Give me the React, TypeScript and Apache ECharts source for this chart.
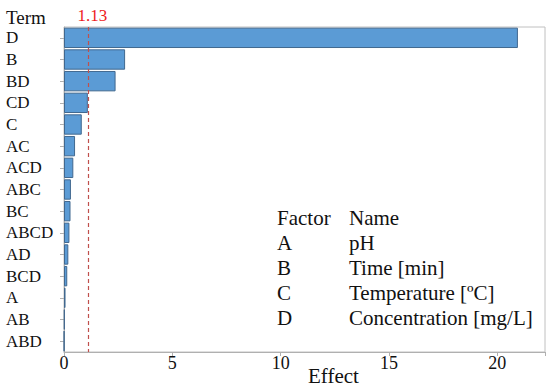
import React, { useEffect, useRef } from "react";
import * as echarts from "echarts";

const terms = ["D", "B", "BD", "CD", "C", "AC", "ACD", "ABC", "BC", "ABCD", "AD", "BCD", "A", "AB", "ABD"];
const effects = [20.95, 2.82, 2.38, 1.1, 0.82, 0.51, 0.43, 0.32, 0.3, 0.25, 0.2, 0.15, 0.07, 0.03, 0.01];
const threshold = 1.13;
const xTicks = [0, 5, 10, 15, 20];
const factorCodes = ["A", "B", "C", "D"];
const factorNames = ["pH", "Time [min]", "Temperature [ºC]", "Concentration [mg/L]"];

const FONT = "Liberation Serif";

export default function App() {
  const ref = useRef<HTMLDivElement>(null);
  useEffect(() => {
    if (!ref.current) return;
    const chart = echarts.init(ref.current, undefined, { renderer: "svg" });
    const legendTexts: any[] = [];
    const rowCenter = 218;
    const rowGap = 25;
    const mk = (text: string, x: number, y: number, size: number, fill = "#111") => ({
      type: "text",
      x,
      y,
      style: { text, fontFamily: FONT, fontSize: size, fill, verticalAlign: "middle", align: "left" },
    });
    legendTexts.push(mk("Factor", 277, rowCenter, 21));
    legendTexts.push(mk("Name", 349, rowCenter, 21));
    factorCodes.forEach((c, i) => {
      legendTexts.push(mk(c, 277, rowCenter + (i + 1) * rowGap, 21));
      legendTexts.push(mk(factorNames[i], 349, rowCenter + (i + 1) * rowGap, 21));
    });
    chart.setOption({
      animation: false,
      backgroundColor: "#fff",
      textStyle: { fontFamily: FONT, fontSize: 17 },
      grid: {
        left: 64, right: 5, top: 27, bottom: 37,
        show: true, borderColor: "#c0c0c0", borderWidth: 1,
      },
      xAxis: {
        type: "value",
        min: 0, max: 22.2, interval: 5,
        axisLine: { show: true, lineStyle: { color: "#b0b0b0" } },
        axisTick: { show: true, length: 4, lineStyle: { color: "#b0b0b0" } },
        splitLine: { show: false },
        axisLabel: {
          color: "#111", fontFamily: FONT, fontSize: 18, margin: 2,
          formatter: (v: number) => (xTicks.includes(v) ? String(v) : ""),
        },
      },
      yAxis: {
        type: "category",
        data: terms,
        inverse: true,
        axisLine: { show: true, lineStyle: { color: "#b0b0b0" } },
        axisTick: { show: true, alignWithLabel: true, interval: 0, length: 4, lineStyle: { color: "#b0b0b0" } },
        axisLabel: {
          interval: 0,
          color: "#111", fontFamily: FONT, fontSize: 17, align: "left", margin: 58,
        },
      },
      graphic: [
        mk("Term", 6, 17, 19),
        mk("Effect", 308, 376, 21),
        ...legendTexts,
      ],
      series: [
        {
          type: "bar",
          data: effects,
          barCategoryGap: "6%",
          itemStyle: { color: "#5b9bd5", borderColor: "#41688f", borderWidth: 1 },
          markLine: {
            silent: true,
            symbol: "none",
            data: [{ xAxis: threshold }],
            lineStyle: { color: "#c0504d", type: [4, 3], width: 1.2 },
            label: {
              show: true, position: "start", distance: 3, offset: [4, 0],
              formatter: String(threshold),
              color: "#ee1c1c", fontFamily: FONT, fontSize: 17,
            },
          },
        },
      ],
    });
    return () => chart.dispose();
  }, []);
  return <div ref={ref} style={{ width: 550, height: 389, position: "absolute", left: 0, top: 0 }} />;
}
